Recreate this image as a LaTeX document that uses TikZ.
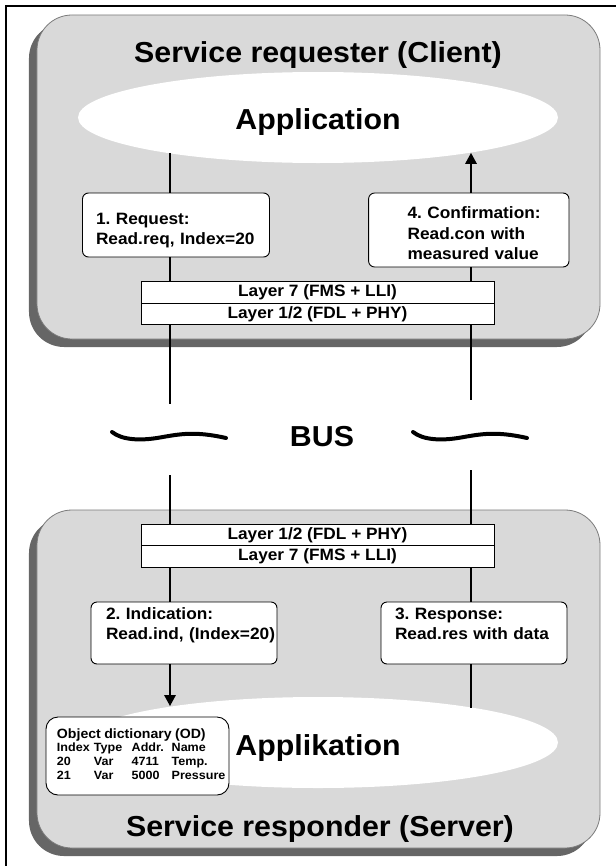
\documentclass[tikz,border=0pt]{standalone}
\usepackage{fontspec}
\setmainfont{Liberation Sans}[FakeStretch=1.05]
\usetikzlibrary{arrows.meta,shapes.geometric,shadows}
\definecolor{panelgray}{HTML}{D9D9D9}
\definecolor{shadowgray}{HTML}{666666}
\definecolor{edgegray}{HTML}{7A7A7A}
\frenchspacing
\begin{document}
\frenchspacing
\begin{tikzpicture}[x=1bp,y=-1bp,
  panel/.style={draw=edgegray, line width=0.8bp, fill=panelgray, rounded corners=35bp,
    general shadow={fill=shadowgray, shadow xshift=-8bp, shadow yshift=-8bp}, inner sep=0pt},
  appell/.style={ellipse, fill=white, inner sep=0pt, minimum width=480bp, minimum height=91bp,
    font=\fontsize{29}{34}\selectfont\bfseries},
  msgbox/.style={draw=black, line width=0.9bp, fill=white, rounded corners=6bp, align=left,
    inner ysep=2bp, font=\fontsize{16.5}{20.5}\selectfont\bfseries},
  layerbox/.style={draw=black, line width=0.8bp, fill=white, minimum width=353bp,
    minimum height=21.5bp, inner sep=0pt, font=\fontsize{16.5}{18}\selectfont\bfseries},
  odbox/.style={draw=black, line width=0.9bp, fill=white, rounded corners=12bp, align=left,
    inner xsep=11bp, text width=161bp, minimum height=78bp},
  conn/.style={line width=2.6bp},
  arr/.style={conn, -{Triangle[length=11bp,width=11bp]}},
  titletext/.style={font=\fontsize{29}{34}\selectfont\bfseries, anchor=base, inner sep=0pt},
  wave/.style={line width=4bp, line cap=round},
]
\useasboundingbox (0,0) rectangle (616,866);
% outer frame
\draw[line width=2bp] (616,6) -- (6,6) -- (6,866);

% panels
\node[panel, minimum width=563bp, minimum height=324bp] (client) at (318.5,177) {};
\node[panel, minimum width=563bp, minimum height=338bp] (server) at (318.5,679) {};

% titles
\node[titletext] (ctitle) at (318,62) {Service requester (Client)};
\node[titletext] (stitle) at (320,836) {Service responder (Server)};

% application ellipses
\node[appell, text height=23bp, text depth=0bp] (app) at (318,117.5) {Application};
\node[appell, text height=25bp, text depth=0bp] (apk) at (318,742.5) {Applikation};

% message boxes
\node[msgbox, inner xsep=13.5bp, text width=160bp, minimum height=64bp] (req) at (176,225)
  {\mbox{\rule{0pt}{22bp}1. Request:}\\\mbox{Read.req, Index=20}};
\node[msgbox, inner xsep=39bp, text width=122.4bp, minimum height=74bp] (conf) at (468.8,230)
  {\mbox{\rule{0pt}{18.5bp}4. Confirmation:}\\\mbox{Read.con with}\\\mbox{measured value}};
\node[msgbox, inner xsep=15bp, text width=156bp, minimum height=62bp] (ind) at (184,633)
  {\mbox{2. Indication:}\\\mbox{Read.ind, (Index=20)}\\[-2bp]\mbox{}};
\node[msgbox, inner xsep=14bp, text width=158bp, minimum height=62bp] (resp) at (474,633)
  {\mbox{3. Response:}\\\mbox{Read.res with data}\\[-2bp]\mbox{}};

% layer boxes
\node[layerbox] (l7a) at (317.5,292.5) {Layer 7 (FMS + LLI)};
\node[layerbox] (l12a) at (317.5,314) {Layer 1/2 (FDL + PHY)};
\node[layerbox] (l12b) at (317.5,535) {Layer 1/2 (FDL + PHY)};
\node[layerbox] (l7b) at (317.5,556.5) {Layer 7 (FMS + LLI)};

% object dictionary
\node[odbox] (od) at (137.5,756)
  {\fontsize{13.5}{15}\selectfont\bfseries Object dictionary (OD)\\
   {\fontsize{12}{14}\selectfont\bfseries
   \begin{tabular}{@{}p{37bp}@{}p{37.7bp}@{}p{40bp}@{}l@{}}
   Index & Type & Addr. & Name\\
   20 & Var & 4711 & Temp.\\
   21 & Var & 5000 & Pressure
   \end{tabular}}};

% bus
\node[titletext] (bus) at (322,446.7) {BUS};
\draw[wave] (112,432) .. controls (122,440) and (140,441) .. (160,437.5)
  .. controls (180,434) and (195,431) .. (226,438);
\draw[wave] (413,432) .. controls (423,440) and (441,441) .. (461,437.5)
  .. controls (481,434) and (496,431) .. (527,438);

% connector stub ends at the bus gap
\coordinate (lt) at (170,404);
\coordinate (lb) at (170,475);
\coordinate (rt) at (471,400);
\coordinate (rb) at (471,470);

% left path (request / indication)
\draw[conn] (app.193.6 -| lt) -- (req.north -| lt);
\draw[conn] (req.south -| lt) -- (l7a.north -| lt);
\draw[conn] (l12a.south -| lt) -- (lt);
\draw[conn] (lb) -- (l12b.north -| lb);
\draw[conn] (l7b.south -| lb) -- (ind.north -| lb);
\draw[arr] (ind.south -| lb) -- (apk.166.4 -| lb);

% right path (response / confirmation)
\draw[arr] (conf.north -| rt) -- (app.347.1 -| rt);
\draw[conn] (l7a.north -| rt) -- (conf.south -| rt);
\draw[conn] (l12a.south -| rt) -- (rt);
\draw[conn] (rb) -- (l12b.north -| rb);
\draw[conn] (l7b.south -| rb) -- (resp.north -| rb);
\draw[conn] (resp.south -| rb) -- (apk.12.9 -| rb);
\end{tikzpicture}
\end{document}
